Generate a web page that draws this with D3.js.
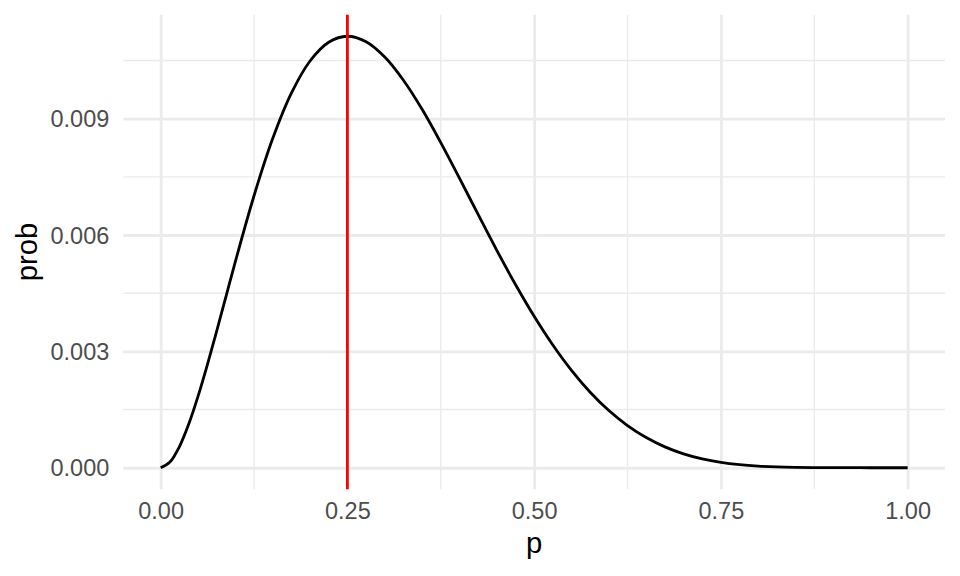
<!DOCTYPE html>
<html>
<head>
<meta charset="utf-8">
<script src="https://cdn.jsdelivr.net/npm/d3@7"></script>
<style>
  body { margin: 0; background: #fff; }
  svg { display: block; font-family: "Liberation Sans", Arial, sans-serif; }
</style>
</head>
<body>
<svg class="container"></svg>
<script>
// p grid and the probability
const pValues = [
  0, 0.0125, 0.025, 0.0375, 0.05, 0.0625, 0.075, 0.0875, 0.1, 0.125, 0.15, 0.175, 0.2, 0.225,
  0.25, 0.275, 0.3, 0.325, 0.35, 0.375, 0.4, 0.425, 0.45, 0.475,
  0.5, 0.525, 0.55, 0.575, 0.6, 0.625, 0.65, 0.675, 0.7, 0.725,
  0.75, 0.775, 0.8, 0.825, 0.85, 0.875, 0.9, 0.925, 0.95, 0.975, 1
];
const probValues = [
  0, 0.000145, 0.000537, 0.001118, 0.001838, 0.002652, 0.003524, 0.00442, 0.005315, 0.007013, 0.008486, 0.009657, 0.010487, 0.01097,
  0.011124, 0.010982, 0.010588, 0.00999, 0.00924, 0.008382, 0.007465, 0.00653, 0.005605, 0.004725,
  0.003906, 0.003166, 0.002512, 0.001948, 0.001474, 0.001086, 0.000777, 0.000537, 0.000357, 0.000227,
  0.000137, 0.000078, 0.000041, 0.0000195, 0.0000082, 0.0000029, 0.0000008, 0.0000002, 0, 0, 0
];
const markP = 0.25;

const xTicks = [0, 0.25, 0.5, 0.75, 1];
const xMinor = [0.125, 0.375, 0.625, 0.875];
const yTicks = [0, 0.003, 0.006, 0.009];
const yMinor = [0.0015, 0.0045, 0.0075, 0.0105];

const width = 960;
const height = 576;
const panel = { left: 123.3, right: 945, top: 14.7, bottom: 489.3 };

const svg = d3.select(".container").attr("width", width).attr("height", height);

const data = pValues.map((p, i) => ({ p: p, prob: probValues[i] }));

const xScale = d3.scaleLinear()
  .domain([-0.05, 1.05])
  .range([panel.left, panel.right]);

const yMax = d3.max(probValues);
const yScale = d3.scaleLinear()
  .domain([-0.05 * yMax, 1.05 * yMax])
  .range([panel.bottom, panel.top]);

// grid, minor first
const grid = svg.append("g");
grid.selectAll(".xminor").data(xMinor).enter().append("line")
  .attr("x1", d => xScale(d)).attr("x2", d => xScale(d))
  .attr("y1", panel.top).attr("y2", panel.bottom)
  .attr("stroke", "#EBEBEB").attr("stroke-width", 1.4);
grid.selectAll(".yminor").data(yMinor).enter().append("line")
  .attr("y1", d => yScale(d)).attr("y2", d => yScale(d))
  .attr("x1", panel.left).attr("x2", panel.right)
  .attr("stroke", "#EBEBEB").attr("stroke-width", 1.4);

const xAxis = d3.axisBottom(xScale)
  .tickValues(xTicks)
  .tickSize(-(panel.bottom - panel.top))
  .tickPadding(13)
  .tickFormat(d3.format(".2f"));
const yAxis = d3.axisLeft(yScale)
  .tickValues(yTicks)
  .tickSize(-(panel.right - panel.left))
  .tickPadding(14)
  .tickFormat(d3.format(".3f"));

const gx = svg.append("g")
  .attr("transform", `translate(0, ${panel.bottom})`)
  .call(xAxis);
const gy = svg.append("g")
  .attr("transform", `translate(${panel.left}, 0)`)
  .call(yAxis);

[gx, gy].forEach(g => {
  g.select(".domain").remove();
  g.selectAll(".tick line").attr("stroke", "#EBEBEB").attr("stroke-width", 2.8);
  g.selectAll(".tick text")
    .attr("fill", "#4D4D4D")
    .style("font-size", "23.5px")
    .style("font-family", "'Liberation Sans', Arial, sans-serif");
});
gx.selectAll(".tick text").attr("dy", "0.71em");
gy.selectAll(".tick text").attr("dy", "0.35em");

// curve
const line = d3.line()
  .x(d => xScale(d.p))
  .y(d => yScale(d.prob))
  .curve(d3.curveCatmullRom);

svg.append("path")
  .datum(data)
  .attr("d", line)
  .attr("fill", "none")
  .attr("stroke", "#000")
  .attr("stroke-width", 2.8)
  .attr("stroke-linejoin", "round");

// red marker line
svg.append("line")
  .attr("x1", xScale(markP)).attr("x2", xScale(markP))
  .attr("y1", panel.top).attr("y2", panel.bottom)
  .attr("stroke", "#FF0000")
  .attr("stroke-width", 2.8);

// axis titles
svg.append("text")
  .attr("x", (panel.left + panel.right) / 2)
  .attr("y", 553)
  .attr("text-anchor", "middle")
  .style("font-size", "29.3px")
  .attr("fill", "#000")
  .text("p");

svg.append("text")
  .attr("transform", `translate(36.5, ${(panel.top + panel.bottom) / 2}) rotate(-90)`)
  .attr("text-anchor", "middle")
  .style("font-size", "29.3px")
  .attr("fill", "#000")
  .text("prob");
</script>
</body>
</html>
